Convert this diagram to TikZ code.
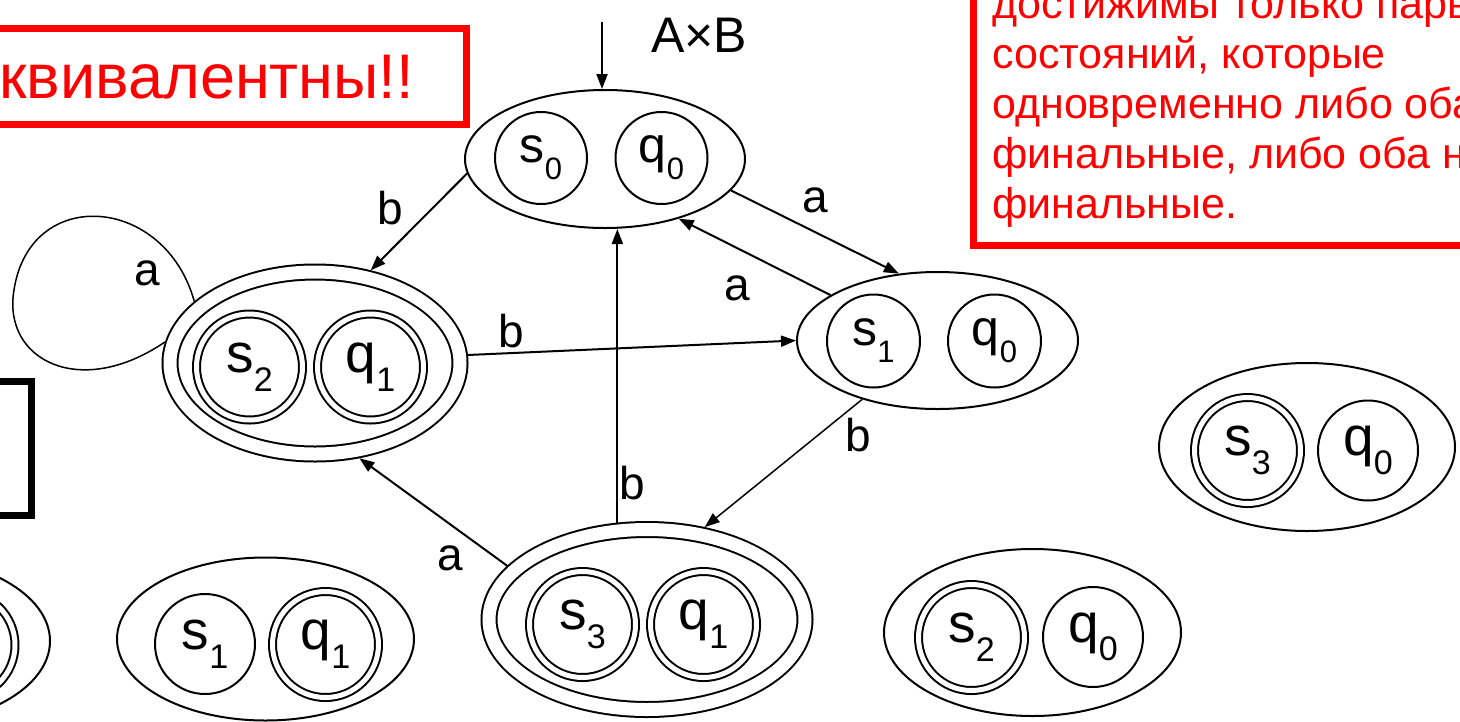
\documentclass[tikz,border=0pt]{standalone}
\usepackage{fontspec}
\setmainfont{Liberation Sans}
\usetikzlibrary{shapes.geometric,arrows.meta}
\definecolor{slidered}{RGB}{255,0,0}
\newcommand{\st}[2]{#1\raisebox{-.34em}{\scalebox{.62}{#2}}}

\begin{document}
\begin{tikzpicture}[x=1pt,y=-1pt,
  pair/.style={draw,ellipse,line width=2pt,inner sep=0pt,outer sep=1pt},
  fpair/.style={pair,double,double distance=13pt,outer sep=8.5pt},
  st/.style={draw,circle,line width=2pt,inner sep=0pt,minimum size=100pt,font=\fontsize{55}{60}\selectfont},
  fst/.style={st,double,double distance=5pt,minimum size=106pt},
  arr/.style={-{Triangle[length=15pt,width=11pt]},line width=2pt},
  lbl/.style={font=\fontsize{46}{50}\selectfont,inner sep=0pt},
  redbox/.style={draw=slidered,line width=7pt}]
  \useasboundingbox (0,0) rectangle (1460,721);
  \clip (0,0) rectangle (1460,721);

  % notes
  \draw[redbox] (-40,28) rectangle (466,124);
  \node[font=\fontsize{63}{70}\selectfont,text=slidered,anchor=base east,inner sep=0pt] (warn) at (414,98) {квивалентны!!};
  \draw[redbox] (973,-40) rectangle (1500,245);
  \node[font=\fontsize{43}{50}\selectfont,text=slidered,anchor=base west,align=left,inner sep=0pt] (note) at (992,218)
    {достижимы только пары\\состояний, которые\\одновременно либо оба\\финальные, либо оба не\\финальные.};
  \draw[line width=7pt] (-40,381) rectangle (31.5,515.5);

  % product states
  \node[pair,minimum width=280pt,minimum height=138pt] (s0q0) at (605,159) {};
  \node[st,minimum size=92pt,font=\fontsize{50}{55}\selectfont] (s0q0-s) at (541,158) {\st{s}{0}};
  \node[st,minimum size=92pt,font=\fontsize{50}{55}\selectfont] (s0q0-q) at (661.5,158) {\st{q}{0}};

  \node[fpair,minimum width=290pt,minimum height=182pt] (s2q1) at (315,363) {};
  \node[fst] (s2q1-s) at (249.5,367) {\st{s}{2}};
  \node[fst] (s2q1-q) at (370.5,367) {\st{q}{1}};

  \node[pair,minimum width=281pt,minimum height=137pt] (s1q0) at (937.5,340.5) {};
  \node[st,minimum size=93pt,font=\fontsize{50}{55}\selectfont] (s1q0-s) at (873.5,341) {\st{s}{1}};
  \node[st,minimum size=93pt,font=\fontsize{50}{55}\selectfont] (s1q0-q) at (994.5,341) {\st{q}{0}};

  \node[fpair,minimum width=316pt,minimum height=180pt] (s3q1) at (647,619.5) {};
  \node[fst] (s3q1-s) at (582.5,624.5) {\st{s}{3}};
  \node[fst] (s3q1-q) at (703.5,624.5) {\st{q}{1}};

  \node[pair,minimum width=297pt,minimum height=163pt] (s1q1) at (265.5,639) {};
  \node[st] (s1q1-s) at (205,644) {\st{s}{1}};
  \node[fst] (s1q1-q) at (325.5,644.5) {\st{q}{1}};

  \node[pair,minimum width=297pt,minimum height=167pt] (s2q0) at (1032.5,632.5) {};
  \node[fst] (s2q0-s) at (971.5,637.5) {\st{s}{2}};
  \node[st] (s2q0-q) at (1093,637) {\st{q}{0}};

  \node[pair,minimum width=296pt,minimum height=168pt] (s3q0) at (1307,447) {};
  \node[fst] (s3q0-s) at (1247.5,450.5) {\st{s}{3}};
  \node[st] (s3q0-q) at (1368,450.5) {\st{q}{0}};

  \node[pair,minimum width=296pt,minimum height=168pt] (lpair) at (-98,641) {};
  \node[fst] (lpair-q) at (-38,645) {};

  % start
  \coordinate (init) at (602,22);
  \draw[arr] (init) -- (init |- s0q0.north);
  \node[font=\fontsize{50}{55}\selectfont,inner sep=0pt] (axb) at (699,35) {A×B};

  % transitions
  \draw[arr] (s0q0.186) -- (s2q1.59);
  \draw[arr] (s0q0.346) -- (s1q0.120);
  \draw[arr] (s1q0.157) -- (s0q0.321);
  \draw[arr] (s2q1.3) -- (s1q0.180);
  \draw[arr,line width=1.5pt] (s1q0.218) -- (s3q1.58);
  \draw[arr] (s3q1.107) -- (s3q1.107 |- s0q0.south);
  \draw[arr] (s3q1.159) -- (s2q1.295);
  \draw[line width=1.5pt] (s2q1.153) .. controls (165,195) and (30,185) .. (14,290)
    .. controls (2,360) and (80,400) .. (s2q1.172);

  \node[lbl] (lb-b1) at (390,208) {b};
  \node[lbl] (lb-a1) at (815,200) {a};
  \node[lbl] (lb-a2) at (737,288) {a};
  \node[lbl] (lb-b2) at (511,331) {b};
  \node[lbl] (lb-b3) at (858,435) {b};
  \node[lbl] (lb-b4) at (632,483) {b};
  \node[lbl] (lb-a3) at (450,558) {a};
  \node[lbl] (lb-a4) at (147,273) {a};
\end{tikzpicture}
\end{document}
